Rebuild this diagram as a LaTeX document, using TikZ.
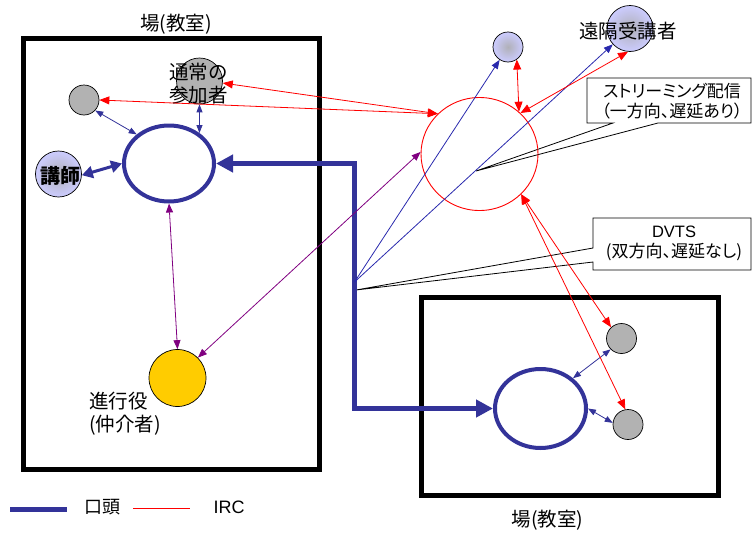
\documentclass[tikz,border=0pt]{standalone}
\usepackage{fontspec}
\setmainfont{Noto Sans CJK JP}
\newfontfamily\paltfont[RawFeature=+palt]{Noto Sans CJK JP}
\newfontfamily\latinfont{Liberation Sans}
\usetikzlibrary{arrows.meta,shapes.geometric}
\definecolor{navy}{HTML}{333399}
\definecolor{ircred}{HTML}{FF0000}
\definecolor{purp}{HTML}{800080}
\definecolor{grayc}{HTML}{B2B2B2}
\definecolor{lav}{HTML}{CCCCFF}
\definecolor{gold}{HTML}{FFCC00}
\definecolor{shadec}{HTML}{B0B0B8}
\begin{document}
\begin{tikzpicture}[x=1pt,y=-1pt,
  lbl/.style={font=\fontsize{19.5}{23}\selectfont, align=center, inner sep=0pt, text=black},
  lgd/.style={font=\fontsize{18}{22}\selectfont, inner sep=0pt},
  cotext/.style={font=\paltfont\fontsize{17}{20}\selectfont, align=center, inner sep=0pt},
  room/.style={draw=black, line width=5pt},
  callout/.style={draw=black, fill=white, line width=0.8pt, line join=miter},
  ring/.style={ellipse, draw=navy, line width=4pt, inner sep=0pt},
  person/.style={circle, draw=black, line width=0.7pt, inner sep=0pt},
  grayp/.style={person, fill=grayc},
  lavp/.style={person, shade, inner color=shadec, outer color=lav},
  redarr/.style={draw=ircred, line width=0.8pt, arrows={Triangle[length=10pt,width=8pt]-Triangle[length=10pt,width=8pt]}},
  navyarr/.style={draw=navy, line width=0.8pt, arrows={Triangle[length=8pt,width=6pt]-Triangle[length=8pt,width=6pt]}},
  bluearr/.style={draw=navy!80!blue, line width=0.8pt, arrows={-Triangle[length=9pt,width=7pt]}},
  purparr/.style={draw=purp, line width=0.8pt, arrows={Triangle[length=9pt,width=7pt]-Triangle[length=9pt,width=7pt]}},
  bigarr/.style={draw=navy, line width=4.5pt, line join=miter, arrows={Triangle[length=17pt,width=17pt]-Triangle[length=17pt,width=17pt]}},
  teacharr/.style={draw=navy, line width=3pt, arrows={Triangle[length=11pt,width=12pt]-Triangle[length=11pt,width=12pt]}}
]
\useasboundingbox (0,0) rectangle (752,533);

% rooms
\draw[room] (23.5,38.5) rectangle (319.7,469);
\draw[room] (421.5,297.5) rectangle (718.5,495.5);
\node[lbl] (title1) at (176,24) {場(教室)};
\node[lbl] (title2) at (547.5,520) {場(教室)};

% callouts
\coordinate (tip1) at (476,171);
\coordinate (tip2) at (356,290);
\coordinate (hub) at (354.5,282);
\draw[callout] (587,78) -- (751,78) -- (751,123) -- (658,123) -- (tip1) -- (613,123) -- (587,123) -- cycle;
\draw[callout] (593,218) -- (751,218) -- (751,270) -- (593,270) -- (593,262) -- (tip2) -- (593,248) -- cycle;
\node[cotext] (co1) at (672,101.5) {ストリーミング配信\\（一方向、遅延あり）};
\node[cotext] (co2) at (674,243) {{\latinfont\fontsize{16.5}{20}\selectfont DVTS}\\(双方向、遅延なし)};

% nodes
\node[ring, minimum width=90pt, minimum height=76pt] (ell1) at (169,163.5) {};
\node[ring, minimum width=91pt, minimum height=79pt] (ell2) at (540.5,408.5) {};
\node[ellipse, draw=ircred, line width=0.9pt, inner sep=0pt, minimum width=117pt, minimum height=113pt] (irc) at (479.5,154) {};
\node[grayp, minimum size=30pt] (g1) at (84,100) {};
\node[lavp, minimum size=46pt] (teacher) at (58.5,174) {};
\node[grayp, minimum size=46pt] (normal) at (199.5,81) {};
\node[person, fill=gold, minimum size=57pt] (mod) at (177.5,378) {};
\node[lavp, minimum size=30pt] (top1) at (508,47) {};
\node[lavp, minimum size=46pt] (remote) at (630,28.5) {};
\node[grayp, minimum size=30pt] (g2) at (621.5,338.5) {};
\node[grayp, minimum size=30pt] (g3) at (628,424.5) {};

% labels
\node[lbl, font=\bfseries\fontsize{20}{23}\selectfont] (teachertxt) at (60,176) {講師};
\node[lbl] (normaltxt) at (198.5,83.5) {通常の\\参加者};
\node[lbl] (remotetxt) at (628,31) {遠隔受講者};
\node[lbl, anchor=west, align=left] (modtxt) at (89,413.5) {進行役\\(仲介者)};

% oral (thick navy)
\draw[bigarr] (ell1.east) -- (ell1.east -| hub) -- (hub |- ell2.west) -- (ell2.west);
\draw[teacharr] (teacher.-3) -- (ell1.west);
\draw[navyarr] (g1.-43) -- (ell1.138);
\draw[navyarr] (normal.south) -- (ell1.45);
\draw[navyarr] (ell2.43) -- (g2.225);
\draw[navyarr] (ell2.east) -- (g3.174);

% DVTS thin blue
\draw[bluearr] (hub) -- (top1);
\draw[bluearr] (hub) -- (remote);

% IRC red
\draw[redarr] (g1.east) -- (irc.136);
\draw[redarr] (normal.-5) -- (irc.136);
\draw[redarr] (top1.-55) -- (irc.47);
\draw[redarr] (remote.-95) -- (irc.45);
\draw[redarr] (irc.-44) -- (g2.133);
\draw[redarr] (irc.-44) -- (g3.100);

% moderator purple
\draw[purparr] (ell1.south) -- (mod.north);
\draw[purparr] (irc.178) -- (mod.45);

% legend
\coordinate (lg1a) at (10,509);
\coordinate (lg1b) at (67,509);
\coordinate (lg2a) at (133,508);
\coordinate (lg2b) at (190,508);
\draw[navy, line width=5pt] (lg1a) -- (lg1b);
\node[lgd] (lgoral) at (102,507) {口頭};
\draw[ircred, line width=0.8pt] (lg2a) -- (lg2b);
\node[lgd, font=\latinfont\fontsize{18}{22}\selectfont] (lgirc) at (229,507) {IRC};
\end{tikzpicture}
\end{document}
